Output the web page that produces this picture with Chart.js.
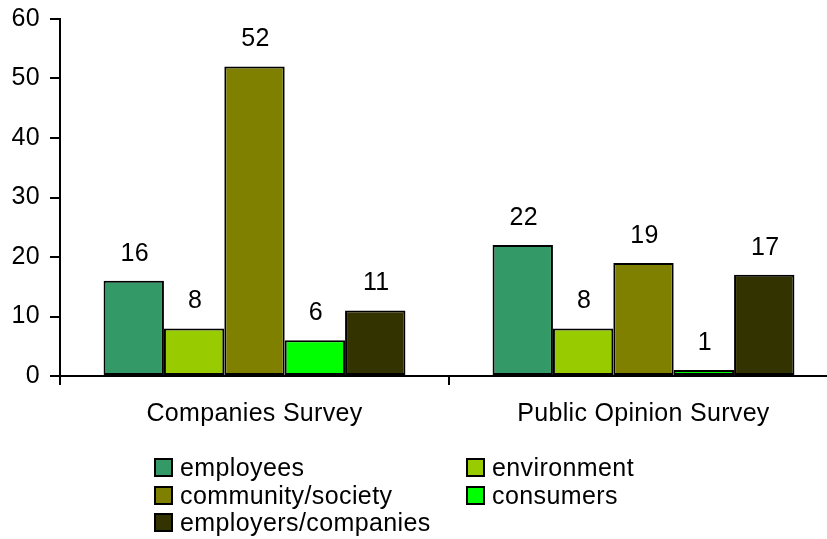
<!DOCTYPE html>
<html>
<head>
<meta charset="utf-8">
<script src="https://cdn.jsdelivr.net/npm/chart.js@4"></script>
<style>
  html, body { margin: 0; padding: 0; background: #fff; overflow: hidden; }
  #wrap { position: relative; width: 827px; height: 539px; overflow: hidden; }
  #box { position: absolute; left: 0; top: 0; width: 845px; height: 539px; }
  #legend {
    position: absolute; left: 154px; top: 454px;
    display: grid; grid-template-columns: 312px auto;
    font: 25px "Liberation Sans", Arial, sans-serif; letter-spacing: 0.4px; color: #000;
  }
  #legend .item { display: flex; align-items: center; height: 27.5px; white-space: nowrap; }
  #legend .sw { width: 15px; height: 15px; border: 2px solid #000; margin-right: 7px; }
</style>
</head>
<body>
<div id="wrap">
  <div id="box"><canvas id="chart"></canvas></div>
  <div id="legend"></div>
</div>
<script>
const CATEGORIES = ["Companies Survey", "Public Opinion Survey"];
const SERIES = ["employees", "environment", "community/society", "consumers", "employers/companies"];
const EMPLOYEES = [16, 22];
const ENVIRONMENT = [8, 8];
const COMMUNITY = [52, 19];
const CONSUMERS = [6, 1];
const EMPLOYERS = [11, 17];
const Y_TICKS = [0, 10, 20, 30, 40, 50, 60];

const COLORS = ["#339966", "#99cc00", "#808000", "#00ff00", "#333300"];
const VALUES = [EMPLOYEES, ENVIRONMENT, COMMUNITY, CONSUMERS, EMPLOYERS];
const FONT = { family: '"Liberation Sans", Arial, sans-serif', size: 25 };

// old office-style text is a touch spread out
const spacing = {
  id: "spacing",
  beforeInit(chart) { chart.ctx.letterSpacing = "0.3px"; },
  beforeDraw(chart) { chart.ctx.letterSpacing = "0.3px"; },
};

// numbers above each bar
const valueLabels = {
  id: "valueLabels",
  afterDatasetsDraw(chart) {
    const ctx = chart.ctx;
    ctx.save();
    ctx.font = `${FONT.size}px ${FONT.family}`;
    ctx.fillStyle = "#000";
    ctx.textAlign = "center";
    ctx.textBaseline = "middle";
    chart.data.datasets.forEach((ds, i) => {
      chart.getDatasetMeta(i).data.forEach((bar, j) => {
        ctx.fillText(String(ds.data[j]), bar.x + 1, bar.y - 27);
      });
    });
    ctx.restore();
  },
};

new Chart(document.getElementById("chart"), {
  type: "bar",
  data: {
    labels: CATEGORIES,
    datasets: SERIES.map((name, i) => ({
      label: name,
      data: VALUES[i],
      backgroundColor: COLORS[i],
      borderColor: "#000",
      borderWidth: 2,
      borderSkipped: false,
      categoryPercentage: 0.776,
      barPercentage: 1,
    })),
  },
  options: {
    responsive: true,
    maintainAspectRatio: false,
    animation: false,
    events: [],
    layout: { padding: { top: 19, right: 7, left: 0, bottom: 0 } },
    plugins: { legend: { display: false }, tooltip: { enabled: false } },
    scales: {
      x: {
        afterFit: (s) => { s.height = 163; s.paddingLeft = 0; s.paddingRight = 0; },
        border: { color: "#000", width: 2 },
        grid: { drawOnChartArea: false, color: "#000", lineWidth: 2, tickLength: 9, offset: true },
        ticks: { color: "#000", font: FONT, padding: 14 },
      },
      y: {
        min: 0,
        max: 60,
        afterFit: (s) => { s.width = 60; s.paddingTop = 0; s.paddingBottom = 0; },
        afterBuildTicks: (s) => { s.ticks = Y_TICKS.map((v) => ({ value: v })); },
        border: { color: "#000", width: 2 },
        grid: { drawOnChartArea: false, color: "#000", lineWidth: 2, tickLength: 10 },
        ticks: { color: "#000", font: FONT, padding: 10 },
      },
    },
  },
  plugins: [spacing, valueLabels],
});

// two-column legend under the plot
const legend = document.getElementById("legend");
SERIES.forEach((name, i) => {
  const item = document.createElement("div");
  item.className = "item";
  const sw = document.createElement("span");
  sw.className = "sw";
  sw.style.background = COLORS[i];
  item.appendChild(sw);
  item.appendChild(document.createTextNode(name));
  legend.appendChild(item);
});
</script>
</body>
</html>
